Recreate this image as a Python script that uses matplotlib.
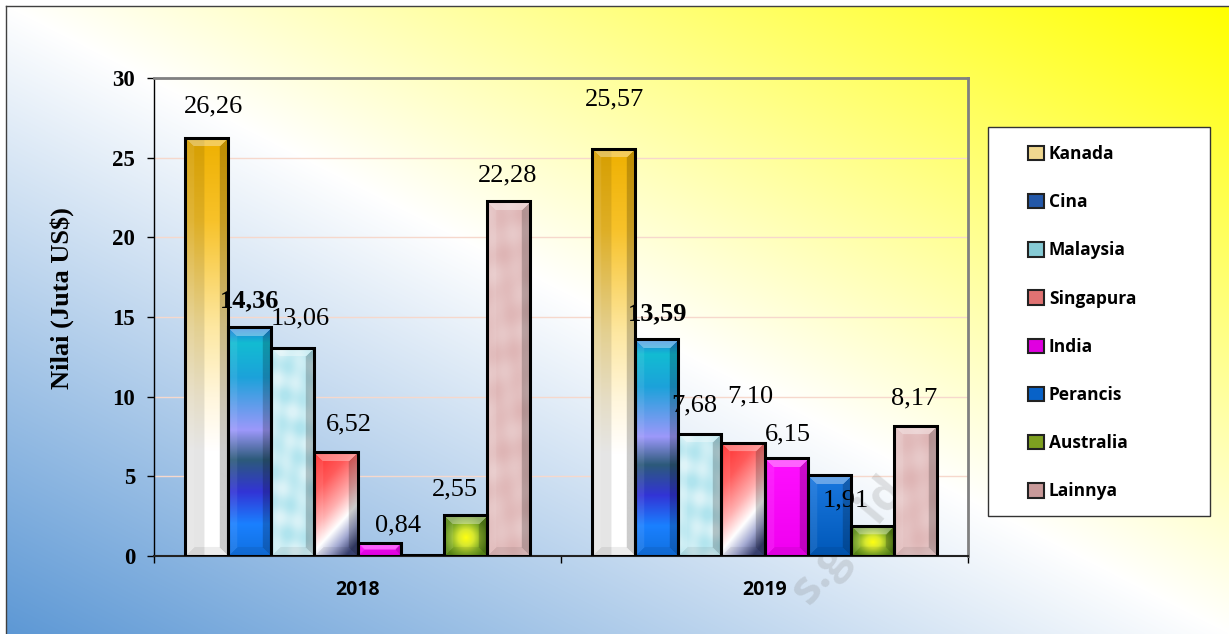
import numpy as np
import matplotlib
matplotlib.use("Agg")
import matplotlib.pyplot as plt
from matplotlib.colors import to_rgb
from matplotlib.patches import Rectangle, Patch
from matplotlib.lines import Line2D

# ---------------- data ----------------
years = ["2018", "2019"]
countries = ["Kanada", "Cina", "Malaysia", "Singapura", "India", "Perancis", "Australia", "Lainnya"]
values_2018 = [26.26, 14.36, 13.06, 6.52, 0.84, 0.08, 2.55, 22.28]
values_2019 = [25.57, 13.59, 7.68, 7.10, 6.15, 5.08, 1.91, 8.17]
labels_2018 = ["26,26", "14,36", "13,06", "6,52", "0,84", "", "2,55", "22,28"]
labels_2019 = ["25,57", "13,59", "7,68", "7,10", "6,15", "", "1,91", "8,17"]
y_ticks = [0, 5, 10, 15, 20, 25, 30]
y_label = "Nilai (Juta US$)"

# ---------------- style ----------------
W, H = 1229, 634
SERIF = "Liberation Serif"
SANS = "Open Sans"
label_offsets = {  # pixel offsets of value labels (dx, dy)
    "2018": [(7, 31), (0, 26), (7, 29), (13, 28), (19, 17.5), (0, 0), (-10, 26), (-1, 26)],
    "2019": [(1, 49), (1, 25.5), (-6, 28), (7, 46), (2, 24), (0, 0), (-26, 25), (-1, 27)],
}
bold_series = {"Cina"}
legend_colors = ["#f0d890", "#2458a8", "#86cad4", "#e07272", "#e000e0", "#0862c8", "#7ea020", "#c99a9a"]


def stops_interp(t, stops):
    pos = np.array([s[0] for s in stops])
    cols = np.array([to_rgb(s[1]) for s in stops])
    out = np.empty(t.shape + (3,))
    for k in range(3):
        out[..., k] = np.interp(t, pos, cols[:, k])
    return out


def bar_fill(kind, h, w):
    r = np.arange(h)[:, None] + np.zeros((1, w))
    c = np.arange(w)[None, :] + np.zeros((h, 1))
    ys = (r + 0.5) / h
    xs = (c + 0.5) / w
    if kind == "Kanada":
        img = stops_interp(ys, [(0, "#eeb000"), (0.2, "#f7c22a"), (0.45, "#fde7a0"),
                                (0.62, "#fff6dc"), (0.75, "#ffffff"), (1, "#ffffff")])
        shade = np.where(xs < 0.45, 0.9, 1.0)[..., None]
        img = img * shade
    elif kind == "Cina":
        img = stops_interp(ys, [(0, "#1f78dc"), (0.07, "#12bcd2"), (0.22, "#1ca2da"),
                                (0.45, "#9c98fa"), (0.58, "#2c5a7a"), (0.72, "#3234d6"),
                                (0.86, "#1a80ff"), (1, "#1070e0")])
    elif kind == "Malaysia":
        tex = (np.sin(r * 0.11 + c * 0.19) * np.sin(c * 0.14 - r * 0.07)
               + 0.6 * np.sin(r * 0.23 - c * 0.09 + 1.3))
        tex = np.clip(0.5 + 0.35 * tex, 0, 1)
        base = np.array(to_rgb("#b0e4ee"))
        img = base[None, None, :] * np.ones((h, w, 1))
        img = img + (1 - img) * (0.55 * tex)[..., None]
    elif kind == "Singapura":
        t = np.clip(0.75 * ys + 0.35 * xs, 0, 1)
        img = stops_interp(t, [(0, "#ff2a2a"), (0.3, "#ff5a5a"), (0.55, "#ffb0b0"),
                               (0.72, "#ffffff"), (0.86, "#a4aad2"), (1, "#3c4476")])
    elif kind == "India":
        img = stops_interp(ys, [(0, "#ff10ff"), (1, "#f000f0")])
    elif kind == "Perancis":
        img = stops_interp(ys, [(0, "#1a78e0"), (1, "#0058b8")])
    elif kind == "Australia":
        d = np.sqrt(((xs - 0.5) / 0.5) ** 2 + ((ys - 0.55) / 0.55) ** 2)
        img = stops_interp(np.clip(d, 0, 1), [(0, "#ffff10"), (0.35, "#d8e830"),
                                              (0.7, "#86b028"), (1, "#5a8a18")])
    else:  # Lainnya
        tex = (np.sin(r * 0.08 - c * 0.17) * np.sin(c * 0.12 + r * 0.05)
               + 0.5 * np.sin(r * 0.19 + c * 0.07))
        tex = np.clip(0.5 + 0.3 * tex, 0, 1)
        base = np.array(to_rgb("#deb4b4"))
        img = base[None, None, :] * np.ones((h, w, 1))
        img = img + (1 - img) * (0.3 * tex)[..., None]
    # bevel
    b = 9
    dl, dr, dt, db = c, w - 1 - c, r, h - 1 - r
    stack = np.stack([dt, dl, dr, db])
    m = stack.min(axis=0)
    facet = stack.argmin(axis=0)
    inb = m < b
    top = inb & (facet == 0)
    left = inb & (facet == 1)
    right = inb & (facet == 2)
    bot = inb & (facet == 3)
    img[top] = img[top] + (1 - img[top]) * 0.35
    img[left] = img[left] + (1 - img[left]) * 0.08
    img[right] = img[right] * 0.8
    img[bot] = img[bot] * 0.93
    return np.clip(img, 0, 1)


fig = plt.figure(figsize=(W / 100, H / 100), dpi=100, facecolor="white")

# figure background gradient
bg = fig.add_axes([6 / W, 0, 1 - 6 / W, 1 - 6 / H], zorder=-10)
gh, gw = H - 6, W - 6
u = np.linspace(0, 1, gw)[None, :]
v = np.linspace(1, 0, gh)[:, None]
t = (u + v) / 2
bgimg = stops_interp(t, [(0, "#5d98d5"), (0.5, "#ffffff"), (1, "#ffff00")])
bg.imshow(bgimg, aspect="auto", extent=(0, 1, 0, 1), origin="upper")
bg.set_axis_off()
fig.add_artist(Line2D([6 / W, 6 / W], [0, 1 - 6 / H], transform=fig.transFigure, color="#404040", lw=1))
fig.add_artist(Line2D([6 / W, 1], [1 - 6 / H, 1 - 6 / H], transform=fig.transFigure, color="#404040", lw=1))

ax = fig.add_axes([154 / W, 1 - 556 / H, 814 / W, 478 / H])
ax.patch.set_alpha(0)
ax.set_xlim(-0.5, 1.5)
ax.set_ylim(0, 30)

n = len(countries)
bw = 0.1059
x = np.arange(len(years))
fig.canvas.draw()
all_labels = {"2018": labels_2018, "2019": labels_2019}
for i, name in enumerate(countries):
    vals = [values_2018[i], values_2019[i]]
    pos = x + (i - (n - 1) / 2) * bw
    bars = ax.bar(pos, vals, width=bw, facecolor="none", edgecolor="black", linewidth=2.2, zorder=4)
    for j, rect in enumerate(bars):
        x0, y0 = rect.get_x(), rect.get_y()
        x1, y1 = x0 + rect.get_width(), y0 + rect.get_height()
        p0 = ax.transData.transform((x0, y0))
        p1 = ax.transData.transform((x1, y1))
        wpx = max(2, int(round(abs(p1[0] - p0[0]))))
        hpx = max(2, int(round(abs(p1[1] - p0[1]))))
        im = ax.imshow(bar_fill(name, hpx, wpx), extent=(x0, x1, y0, y1), origin="upper",
                       aspect="auto", zorder=3, interpolation="bilinear")
        im.set_clip_path(rect)
        yr = years[j]
        lab = all_labels[yr][i]
        if lab:
            dx, dy = label_offsets[yr][i]
            ax.annotate(lab, xy=(rect.get_x() + rect.get_width() / 2, y1), xytext=(dx, dy),
                        textcoords="offset pixels", ha="center", va="center",
                        fontfamily=SERIF, fontsize=19,
                        fontweight="bold" if name in bold_series else "normal",
                        color="black", zorder=6)

ax.set_xlim(-0.5, 1.5)
ax.set_ylim(0, 30)

# grid, ticks, spines
ax.set_yticks(y_ticks)
ax.set_yticklabels([str(v) for v in y_ticks], fontfamily=SERIF, fontweight="bold", fontsize=16.5)
ax.yaxis.grid(True, color="#f6d8cc", lw=1)
ax.set_axisbelow(True)
ax.tick_params(axis="y", length=5, width=1, pad=8.5, color="black")
ax.set_xticks(x)
ax.set_xticklabels(years, fontfamily=SANS, fontweight="bold", fontsize=14)
ax.set_xticks([-0.5, 0.5, 1.5], minor=True)
ax.tick_params(axis="x", which="major", length=0, pad=17)
ax.tick_params(axis="x", which="minor", length=5, width=1, color="black")
ax.spines["top"].set_color("#808080")
ax.spines["top"].set_linewidth(2)
ax.spines["right"].set_color("#808080")
ax.spines["right"].set_linewidth(2)
ax.spines["left"].set_color("black")
ax.spines["left"].set_linewidth(1)
ax.spines["bottom"].set_color("#222222")
ax.spines["bottom"].set_linewidth(1.5)

fig.text(62 / W, 1 - 298 / H, y_label, rotation=90, ha="center", va="center",
         fontfamily=SERIF, fontweight="bold", fontsize=19)

# watermark
ax.text(848 / W, 1 - 540 / H, "s.go.id", transform=fig.transFigure, rotation=50,
        ha="center", va="center", fontsize=34, fontfamily=SANS, fontweight="bold",
        color="#808080", alpha=0.22, zorder=1, clip_on=False)

# legend
fig.add_artist(Rectangle((988 / W, 1 - 516 / H), 222 / W, 389 / H, transform=fig.transFigure,
                         facecolor="white", edgecolor="#333333", lw=1, zorder=5))
handles = [Patch(facecolor=c, edgecolor="#222222", lw=1.5) for c in legend_colors]
leg = fig.legend(handles, countries, loc="upper left", bbox_to_anchor=(1028 / W, 1 - 145 / H),
                 frameon=False, borderpad=0, borderaxespad=0, handlelength=0.9, handleheight=0.9,
                 handletextpad=0.3, labelspacing=1.74,
                 prop={"family": SANS, "weight": "bold", "size": 12.5})
leg.set_zorder(6)

fig.savefig("out.png", dpi=100)
